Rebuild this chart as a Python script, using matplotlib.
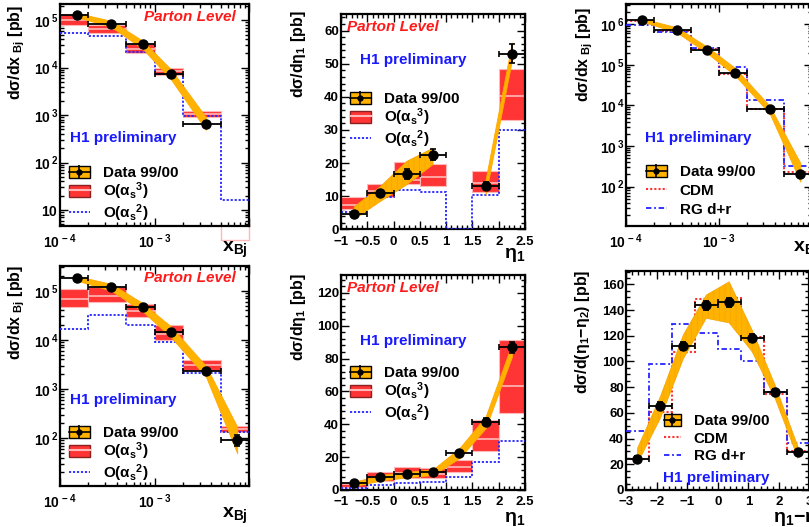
import numpy as np
import matplotlib
matplotlib.use('Agg')
import matplotlib.pyplot as plt
from matplotlib.patches import Patch
from matplotlib.lines import Line2D
from matplotlib.legend_handler import HandlerTuple
from matplotlib.ticker import FixedLocator, FixedFormatter, LogLocator, NullFormatter, FuncFormatter, MultipleLocator

# ---------------- data ----------------
x_edges = [1e-4, 2e-4, 5e-4, 1e-3, 2e-3, 5e-3, 1e-2]
x_cent = [1.5e-4, 3.5e-4, 7.5e-4, 1.5e-3, 3.5e-3, 7.5e-3]

# top-left: d sigma / d x_Bj (NLO comparison, 5 data points)
tl_data = [1.29e5, 8.4e4, 3.1e4, 7.3e3, 650]
tl_err = [4e3, 3e3, 1.2e3, 4e2, 60]
tl_band_hi = [1.43e5, 9.7e4, 3.7e4, 9.1e3, 910]
tl_band_lo = [1.17e5, 7.2e4, 2.5e4, 5.6e3, 490]
tl_nlo_hi = [1.38e5, 7.85e4, 3.1e4, 1.0e4, 1.2e3, 4.0]
tl_nlo_lo = [7.8e4, 5.5e4, 2.04e4, 6.9e3, 910, 2.3]
tl_nlo_c = [1.03e5, 6.6e4, 2.5e4, 8.5e3, 1.05e3, 3.0]
tl_lo = [5.5e4, 4.6e4, 2.1e4, 7.3e3, 965, 16.2]

# top-right: d sigma / d x_Bj (MC comparison)
tr_data = [1.29e6, 7.3e5, 2.35e5, 6.5e4, 8.06e3, 204]
tr_err = [3e4, 2e4, 7e3, 2e3, 3e2, 15]
tr_band_hi = [1.4e6, 8.5e5, 2.8e5, 8.3e4, 9.8e3, 380]
tr_band_lo = [1.17e6, 6.4e5, 1.94e5, 5.4e4, 6.4e3, 132]
tr_cdm = [1.24e6, 7.0e5, 2.45e5, 6.0e4, 8.0e3, 224]
tr_rg = [9.7e5, 6.5e5, 2.7e5, 9.1e4, 1.4e4, 322]

# bottom-left: d sigma / d x_Bj (NLO comparison, 6 data points)
bl_data = [1.8e5, 1.2e5, 4.6e4, 1.44e4, 2.3e3, 91]
bl_err = [5e3, 4e3, 1.5e3, 6e2, 1.5e2, 22]
bl_band_hi = [2.0e5, 1.38e5, 5.6e4, 1.86e4, 2.95e3, 170]
bl_band_lo = [1.62e5, 1.0e5, 3.8e4, 1.12e4, 1.78e3, 49]
bl_nlo_hi = [1.07e5, 1.2e5, 5.4e4, 2.0e4, 3.8e3, 178]
bl_nlo_lo = [4.6e4, 5.8e4, 2.9e4, 9.8e3, 2.4e3, 135]
bl_nlo_c = [6.8e4, 7.9e4, 3.9e4, 1.3e4, 3.05e3, 155]
bl_lo = [1.7e4, 3.2e4, 2.05e4, 8.9e3, 2.1e3, 134]

eta_edges = [-1, -0.5, 0, 0.5, 1, 1.5, 2, 2.5]

# top-middle: d sigma / d eta_1 (bin 1..1.5 empty)
tm_x = [-0.75, -0.25, 0.25, 0.75, 1.75, 2.25]
tm_data = [4.5, 10.9, 16.8, 22.5, 13.2, 53]
tm_err = [0.6, 0.9, 1.5, 1.6, 1.2, 2.8]
tm_band_hi = [6.8, 12.9, 20.5, 24.5, 15.0, 56.4]
tm_band_lo = [3.0, 8.4, 13.4, 19.5, 10.4, 51.0]
tm_nlo_hi = [9.7, 13.7, 20.3, 19.8, np.nan, 17.5, 48.3]
tm_nlo_lo = [6.05, 9.7, 13.6, 13.1, np.nan, 11.4, 33.1]
tm_nlo_c = [7.2, 11.5, 14.9, 15.8, np.nan, 14.0, 40.2]
tm_lo = [5.3, 9.9, 11.9, 11.2, 0, 10.4, 30.1]

# bottom-middle: d sigma / d eta_1
bm_x = [-0.75, -0.25, 0.25, 0.75, 1.25, 1.75, 2.25]
bm_data = [4.5, 7.7, 9.5, 11.2, 22.3, 41.6, 86.8]
bm_err = [0.6, 0.8, 0.9, 1.0, 1.5, 2.0, 3.5]
bm_band_hi = [5.0, 9.1, 11.0, 12.6, 25.4, 44.6, 89.0]
bm_band_lo = [2.4, 5.7, 7.7, 9.1, 19.3, 37.5, 81.0]
bm_nlo_hi = [4.7, 11.0, 13.8, 13.2, 18.3, 42.6, 91.3]
bm_nlo_lo = [2.0, 5.5, 7.1, 7.1, 10.8, 23.9, 47.0]
bm_nlo_c = [3.4, 8.1, 10.1, 10.0, 13.8, 31.0, 63.5]
bm_lo = [1.4, 3.2, 4.5, 4.9, 8.1, 17.2, 29.8]

# bottom-right: d sigma / d(eta_1 - eta_2)
deta_edges = [-3, -2.25, -1.5, -0.75, 0, 0.75, 1.5, 2.25, 3]
br_x = [-2.625, -1.875, -1.125, -0.375, 0.375, 1.125, 1.875, 2.625]
br_data = [24.1, 65.6, 112.3, 143.9, 146, 118, 76.2, 29.3]
br_err = [2.5, 3, 3, 3.5, 3.5, 3, 2.5, 1.5]
br_band_hi = [32.4, 72.6, 120.6, 151.7, 162, 124.5, 81.7, 33.7]
br_band_lo = [20.7, 55.8, 102, 133.6, 130, 107.6, 71.3, 24.6]
br_cdm = [24.4, 61, 107.6, 149, 149.6, 119.3, 74.7, 30.3]
br_rg = [46.2, 98, 129, 121.9, 109.4, 100.6, 76, 36.8]

# ---------------- style ----------------
plt.rcParams['font.family'] = ['Liberation Sans', 'DejaVu Sans']
plt.rcParams['font.weight'] = 'bold'
plt.rcParams['mathtext.fontset'] = 'custom'
plt.rcParams['mathtext.rm'] = 'Liberation Sans'
plt.rcParams['mathtext.bf'] = 'Liberation Sans:bold'
plt.rcParams['mathtext.it'] = 'Liberation Sans:italic'
plt.rcParams['mathtext.sf'] = 'Liberation Sans:bold'
plt.rcParams['hatch.linewidth'] = 0.5

ORANGE = '#FFB300'
ORANGE_E = '#FFA800'
HATCH_C = '#F5A400'
RED = '#FF3535'
PINK = '#FFB8B8'
BLUE = '#2424FF'
CDMRED = '#FF3030'

W, H = 809, 527
fig = plt.figure(figsize=(W / 100, H / 100), dpi=100)


def ax_at(l, r, t, b):
    return fig.add_axes([l / W, 1 - b / H, (r - l) / W, (b - t) / H])


def style(ax):
    for s in ax.spines.values():
        s.set_linewidth(1.6)
    ax.tick_params(which='both', direction='in', top=True, right=True, width=1.0, labelsize=9.5)
    ax.tick_params(which='major', length=6)
    ax.tick_params(which='minor', length=3)
    ax.tick_params(axis='y', pad=1.5)
    ax.tick_params(axis='x', pad=4.5)


def fmt_lin(v, pos):
    s = '%g' % v
    return s.replace('-', '\u2212')


def log_x(ax):
    ax.set_xscale('log')
    ax.set_xlim(1e-4, 1e-2)
    ax.xaxis.set_major_locator(FixedLocator([1e-4, 1e-3, 1e-2]))
    ax.xaxis.set_major_formatter(FixedFormatter([r'$\mathbf{10^{\,-4}}$', r'$\mathbf{10^{\,-3}}$', '']))
    ax.xaxis.set_minor_locator(LogLocator(base=10, subs=np.arange(2, 10)))
    ax.xaxis.set_minor_formatter(NullFormatter())
    ax.tick_params(axis='x', which='major', labelsize=10)


def log_y(ax, lo, hi, labeled):
    ax.set_yscale('log')
    ax.set_ylim(lo, hi)
    ticks = [10.0 ** k for k in range(0, 8)]
    labs = []
    for k in range(0, 8):
        if k in labeled:
            labs.append(r'$\mathbf{10}$' if k == 1 else r'$\mathbf{10^{\,%d}}$' % k)
        else:
            labs.append('')
    ax.yaxis.set_major_locator(FixedLocator(ticks))
    ax.yaxis.set_major_formatter(FixedFormatter(labs))
    ax.yaxis.set_minor_locator(LogLocator(base=10, subs=np.arange(2, 10)))
    ax.yaxis.set_minor_formatter(NullFormatter())
    ax.tick_params(axis='y', which='major', labelsize=10)


def nlo_band(ax, edges, hi, lo, c):
    e = np.array(edges, float)
    hi = np.array(hi, float)
    lo = np.array(lo, float)
    ax.bar(e[:-1], hi - lo, bottom=lo, width=np.diff(e), align='edge',
           color=RED, edgecolor=PINK, linewidth=0.8, zorder=2)
    ax.hlines(c, e[:-1], e[1:], color=PINK, lw=1.2, zorder=2.5)


def band(ax, x, lo, hi, hatch=None):
    if hatch:
        ax.fill_between(x, lo, hi, facecolor=ORANGE, edgecolor=HATCH_C, lw=0.5,
                        hatch=hatch, zorder=3)
    else:
        ax.fill_between(x, lo, hi, facecolor=ORANGE, edgecolor=ORANGE_E, lw=0.6, zorder=3)


def data_pts(ax, x, y, err, edges):
    e = np.array(edges, float)
    x = np.array(x, float)
    left = []
    right = []
    for xi in x:
        i = np.searchsorted(e, xi) - 1
        left.append(xi - e[i])
        right.append(e[i + 1] - xi)
    ax.errorbar(x, y, yerr=err, xerr=[left, right], fmt='o', color='black', ms=6.5,
                capsize=2, elinewidth=1.3, capthick=1.2, zorder=5)


def txt(x, y, s, **kw):
    fig.text(x / W, 1 - y / H, s, **kw)


def ylab(x, y, s):
    txt(x, y, s, rotation=90, ha='center', va='top', fontsize=11.5)


def parton(x, y):
    txt(x, y, 'Parton Level', color='#FF1A1A', fontsize=11, style='italic',
        fontweight='bold', ha='left', va='center')


def h1(x, y):
    txt(x, y, 'H1 preliminary', color='#1A1AFF', fontsize=11, fontweight='bold',
        ha='left', va='center')


data_handle = (Patch(facecolor=ORANGE, edgecolor='black', lw=1.0),
               Line2D([], [], color='black', lw=1.2, marker='o', ms=3.5),
               Line2D([], [], color='black', lw=0, marker='|', ms=10, mew=1.2))
nlo_handle = (Patch(facecolor=RED, edgecolor='#8A2020', lw=1.0),
              Line2D([], [], color=PINK, lw=1.5))
lo_handle = Line2D([], [], color=BLUE, lw=1.3, ls=(0, (1.2, 1.0)))
cdm_handle = Line2D([], [], color=CDMRED, lw=1.5, ls=(0, (1, 1)))
rg_handle = Line2D([], [], color=BLUE, lw=1.3, ls=(0, (3, 1.5, 1, 1.5)))

NLO_LABELS = ['Data 99/00', r'$\mathbf{O(}\mathrm{\alpha}_{\mathbf{s}}{}^{\mathbf{3}}\mathbf{)}$',
              r'$\mathbf{O(}\mathrm{\alpha}_{\mathbf{s}}{}^{\mathbf{2}}\mathbf{)}$']
MC_LABELS = ['Data 99/00', 'CDM', 'RG d+r']


def legend(ax, handles, labels, x, y, spacing, hl=1.35):
    ax.legend(handles, labels, loc='upper left', bbox_to_anchor=(x / W, 1 - y / H),
              bbox_transform=fig.transFigure, frameon=False, borderpad=0, borderaxespad=0,
              handlelength=hl, handleheight=0.85, handletextpad=0.85, labelspacing=spacing,
              fontsize=11, handler_map={tuple: HandlerTuple(ndivide=1, pad=0)})


XBJ = r'$\mathbf{x}_{\mathbf{Bj}}$'
ETA1 = r'$\mathrm{\eta}_{\mathbf{1}}$'
DETA = r'$\mathrm{\eta}_{\mathbf{1}}\mathbf{-}\mathrm{\eta}_{\mathbf{2}}$'
YL_X = r'$\mathbf{d}\mathrm{\sigma}\mathbf{/dx}_{\mathbf{\ Bj}}\ \mathrm{[}\mathbf{pb}\mathrm{]}$'
YL_E = r'$\mathbf{d}\mathrm{\sigma}\mathbf{/d}\mathrm{\eta}_{\mathbf{1}}\ \mathrm{[}\mathbf{pb}\mathrm{]}$'
YL_D = (r'$\mathbf{d}\mathrm{\sigma}\mathbf{/d(}\mathrm{\eta}_{\mathbf{1}}\mathbf{-}'
        r'\mathrm{\eta}_{\mathbf{2}}\mathbf{)}\ \mathrm{[}\mathbf{pb}\mathrm{]}$')

# ---------------- top-left ----------------
ax = ax_at(60, 249, 4, 226)
style(ax)
log_x(ax)
log_y(ax, 4.6, 2.2e5, [1, 2, 3, 4, 5])
nlo_band(ax, x_edges, tl_nlo_hi, tl_nlo_lo, tl_nlo_c)
# last NLO bin lies below the frame: only its outline shows, as in the original
e5, e6 = x_edges[5], x_edges[6]
ax.plot([e5, e5, e6, e6], [4.6, tl_nlo_lo[5], tl_nlo_lo[5], 4.6], color=PINK, lw=1.0,
        clip_on=False, zorder=1)
ax.stairs(tl_lo, x_edges, baseline=None, color=BLUE, lw=1.3, ls=(0, (1.2, 1.0)), zorder=2.8)
band(ax, x_cent[:5], tl_band_lo, tl_band_hi)
data_pts(ax, x_cent[:5], tl_data, tl_err, x_edges)
legend(ax, [data_handle, nlo_handle, lo_handle], NLO_LABELS, 69, 166, 0.0)
parton(144, 17)
h1(70, 138)
ylab(17, 5, YL_X)
txt(248, 250, XBJ, fontsize=14, ha='right', va='center')

# ---------------- top-middle ----------------
ax = ax_at(341, 525, 14, 229.3)
style(ax)
ax.set_xlim(-1, 2.5)
ax.set_ylim(0, 65)
ax.xaxis.set_major_locator(MultipleLocator(0.5))
ax.xaxis.set_minor_locator(MultipleLocator(0.1))
ax.yaxis.set_major_locator(MultipleLocator(10))
ax.yaxis.set_minor_locator(MultipleLocator(2))
ax.xaxis.set_major_formatter(FuncFormatter(fmt_lin))
ax.yaxis.set_major_formatter(FuncFormatter(fmt_lin))
nlo_band(ax, eta_edges, tm_nlo_hi, tm_nlo_lo, tm_nlo_c)
ax.stairs(tm_lo, eta_edges, baseline=None, color=BLUE, lw=1.3, ls=(0, (1.2, 1.0)), zorder=2.8)
band(ax, tm_x[:4], tm_band_lo[:4], tm_band_hi[:4], hatch='|||')
band(ax, tm_x[4:], tm_band_lo[4:], tm_band_hi[4:])
data_pts(ax, tm_x, tm_data, tm_err, eta_edges)
legend(ax, [data_handle, nlo_handle, lo_handle], NLO_LABELS, 350, 92, 0.0)
parton(347, 27)
h1(360, 60)
ylab(298, 10, YL_E)
txt(525, 255, ETA1, fontsize=14, ha='right', va='center')

# ---------------- top-right ----------------
ax = ax_at(626, 812, 4, 226)
style(ax)
log_x(ax)
log_y(ax, 10.6, 3.2e6, [2, 3, 4, 5, 6])
ax.stairs(tr_cdm, x_edges, baseline=None, color=CDMRED, lw=1.5, ls=(0, (1, 1)), zorder=2.5)
ax.stairs(tr_rg, x_edges, baseline=None, color=BLUE, lw=1.3, ls=(0, (3, 1.5, 1, 1.5)), zorder=2.6)
band(ax, x_cent, tr_band_lo, tr_band_hi)
data_pts(ax, x_cent, tr_data, tr_err, x_edges)
legend(ax, [data_handle, cdm_handle, rg_handle], MC_LABELS, 646, 165, 0.28)
h1(645, 138)
ylab(585, 7, YL_X)
txt(793, 250, XBJ, fontsize=14, ha='left', va='center')

# ---------------- bottom-left ----------------
ax = ax_at(60, 249, 266, 486)
style(ax)
log_x(ax)
log_y(ax, 10.5, 3.2e5, [2, 3, 4, 5])
nlo_band(ax, x_edges, bl_nlo_hi, bl_nlo_lo, bl_nlo_c)
ax.stairs(bl_lo, x_edges, baseline=None, color=BLUE, lw=1.3, ls=(0, (1.2, 1.0)), zorder=2.8)
band(ax, x_cent, bl_band_lo, bl_band_hi)
data_pts(ax, x_cent, bl_data, bl_err, x_edges)
legend(ax, [data_handle, nlo_handle, lo_handle], NLO_LABELS, 69, 426, 0.0)
parton(144, 278)
h1(70, 400)
ylab(17, 265, YL_X)
txt(248, 516, XBJ, fontsize=14, ha='right', va='center')

# ---------------- bottom-middle ----------------
ax = ax_at(341, 525, 275, 490)
style(ax)
ax.set_xlim(-1, 2.5)
ax.set_ylim(0, 130.8)
ax.xaxis.set_major_locator(MultipleLocator(0.5))
ax.xaxis.set_minor_locator(MultipleLocator(0.1))
ax.yaxis.set_major_locator(MultipleLocator(20))
ax.yaxis.set_minor_locator(MultipleLocator(4))
ax.xaxis.set_major_formatter(FuncFormatter(fmt_lin))
ax.yaxis.set_major_formatter(FuncFormatter(fmt_lin))
nlo_band(ax, eta_edges, bm_nlo_hi, bm_nlo_lo, bm_nlo_c)
ax.stairs(bm_lo, eta_edges, baseline=None, color=BLUE, lw=1.3, ls=(0, (1.2, 1.0)), zorder=2.8)
band(ax, bm_x, bm_band_lo, bm_band_hi)
data_pts(ax, bm_x, bm_data, bm_err, eta_edges)
legend(ax, [data_handle, nlo_handle, lo_handle], NLO_LABELS, 350, 366, 0.0)
parton(347, 288)
h1(360, 341)
ylab(298, 273, YL_E)
txt(525, 519, ETA1, fontsize=14, ha='right', va='center')

# ---------------- bottom-right ----------------
ax = ax_at(626, 809.5, 271, 490)
style(ax)
ax.set_xlim(-3, 3)
ax.set_ylim(0, 170.4)
ax.xaxis.set_major_locator(MultipleLocator(1))
ax.xaxis.set_minor_locator(MultipleLocator(0.2))
ax.yaxis.set_major_locator(MultipleLocator(20))
ax.yaxis.set_minor_locator(MultipleLocator(5))
ax.xaxis.set_major_formatter(FuncFormatter(fmt_lin))
ax.yaxis.set_major_formatter(FuncFormatter(fmt_lin))
ax.stairs(br_cdm, deta_edges, baseline=None, color=CDMRED, lw=1.5, ls=(0, (1, 1)), zorder=2.5)
ax.stairs(br_rg, deta_edges, baseline=None, color=BLUE, lw=1.3, ls=(0, (3, 1.5, 1, 1.5)), zorder=2.6)
band(ax, br_x, br_band_lo, br_band_hi, hatch='|||')
data_pts(ax, br_x, br_data, br_err, deta_edges)
legend(ax, [data_handle, cdm_handle, rg_handle], MC_LABELS, 664, 414, 0.2, hl=1.1)
h1(663, 478)
ylab(583, 270, YL_D)
txt(773, 519, DETA, fontsize=14, ha='left', va='center')

fig.savefig('out.png', dpi=100)
